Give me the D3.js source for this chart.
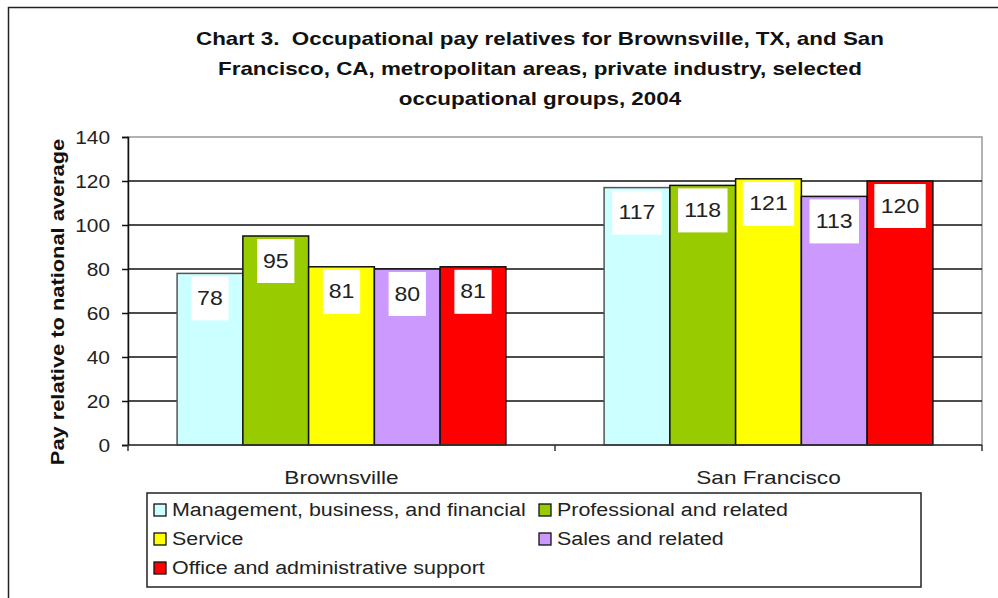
<!DOCTYPE html>
<html>
  <head>
    <title>Occupational pay relatives</title>
    <script src="https://d3js.org/d3.v7.min.js"></script>
    <style>
      body { margin: 0; background: #fff; }
      text { font-family: Arial, "Liberation Sans", sans-serif; }
    </style>
  </head>
  <body>
    <script>
      // values
      let areas = ['Brownsville', 'San Francisco']
      let groups = ['Management, business, and financial', 'Professional and related',
                    'Service', 'Sales and related', 'Office and administrative support']
      let brownsville = [78, 95, 81, 80, 81]
      let sanFrancisco = [117, 118, 121, 113, 120]
      let yTicks = [0, 20, 40, 60, 80, 100, 120, 140]
      let colors = ['#CCFFFF', '#99CC00', '#FFFF00', '#CC99FF', '#FF0000']

      let values = [brownsville, sanFrancisco]
      let width = 998, height = 598
      let plotLeft = 128, plotRight = 982, plotTop = 137, plotBottom = 445

      // the original text is drawn a bit wider than Arial, so widen it
      function stretch(sel, k) {
        sel.each(function () {
          let w = this.getComputedTextLength()
          d3.select(this).attr('textLength', w * k).attr('lengthAdjust', 'spacingAndGlyphs')
        })
      }

      let svg = d3.select('body').append('svg')
                  .attr('width', width)
                  .attr('height', height)

      // outer chart frame (cropped on the right and bottom)
      svg.append('rect')
         .attr('x', 8.5).attr('y', 7.5)
         .attr('width', 1100).attr('height', 700)
         .attr('fill', 'none').attr('stroke', '#222').attr('stroke-width', 1.5)

      let title = ['Chart 3.  Occupational pay relatives for Brownsville, TX, and San',
                   'Francisco, CA, metropolitan areas, private industry, selected',
                   'occupational groups, 2004']
      svg.append('g').selectAll('text').data(title)
         .enter().append('text')
         .attr('x', 540)
         .attr('y', (d, i) => 45 + i * 30)
         .attr('text-anchor', 'middle')
         .style('white-space', 'pre')
         .style('font-size', '18.5px')
         .style('font-weight', 'bold')
         .attr('fill', '#111')
         .text(d => d)
         .call(stretch, 1.21)

      let x0 = d3.scaleBand().domain(areas).range([plotLeft, plotRight])
      let x1 = d3.scaleBand().domain(groups)
                 .range([x0.bandwidth() * 0.115, x0.bandwidth() * 0.885])
      let y = d3.scaleLinear().domain([0, 140]).range([plotBottom, plotTop])

      // plot frame
      svg.append('rect')
         .attr('x', plotLeft).attr('y', plotTop)
         .attr('width', plotRight - plotLeft).attr('height', plotBottom - plotTop)
         .attr('fill', 'none').attr('stroke', '#999').attr('stroke-width', 1.5)

      // grid lines
      svg.append('g').selectAll('line').data(yTicks.filter(t => t > 0 && t < 140))
         .enter().append('line')
         .attr('x1', plotLeft).attr('x2', plotRight)
         .attr('y1', d => y(d)).attr('y2', d => y(d))
         .attr('stroke', '#111').attr('stroke-width', 1.5)

      // y axis
      let yAxis = d3.axisLeft(y).tickValues(yTicks).tickSize(6).tickPadding(12)
      let yg = svg.append('g').attr('transform', `translate(${plotLeft}, 0)`).call(yAxis)
      yg.select('.domain').attr('stroke', '#111').attr('stroke-width', 1.5)
      yg.selectAll('.tick line').attr('stroke', '#111').attr('stroke-width', 1.5)
      yg.selectAll('.tick text').style('font-size', '19px').attr('fill', '#222')
        .call(stretch, 1.1)

      // bars
      let series = svg.selectAll('g.area').data(areas)
                      .enter().append('g')
                      .attr('class', 'area')
                      .attr('transform', d => `translate(${x0(d)}, 0)`)

      series.selectAll('rect').data((d, i) => values[i].map((v, j) => ({v: v, g: groups[j], c: colors[j]})))
            .enter().append('rect')
            .attr('x', d => x1(d.g))
            .attr('y', d => y(d.v))
            .attr('width', x1.bandwidth())
            .attr('height', d => plotBottom - y(d.v))
            .attr('fill', d => d.c)
            .attr('stroke', (d, i) => i === 0 ? '#555' : '#111')
            .attr('stroke-width', 1.5)

      // data labels in white boxes
      let labels = series.selectAll('g.label')
            .data((d, i) => values[i].map((v, j) => ({v: v, g: groups[j]})))
            .enter().append('g').attr('class', 'label')
      let boxes = labels.append('rect')
            .attr('y', d => y(d.v) + 3)
            .attr('height', 44)
            .attr('fill', '#fff')
      let labelText = labels.append('text')
            .attr('x', d => x1(d.g) + x1.bandwidth() / 2)
            .attr('y', d => y(d.v) + 24)
            .attr('text-anchor', 'middle')
            .attr('dominant-baseline', 'central')
            .style('font-size', '21px')
            .attr('fill', '#222')
            .text(d => d.v)
            .call(stretch, 1.1)
      labelText.each(function (d) {
        let w = this.getComputedTextLength() * 1.1 + 9
        d.box = w
      })
      boxes.attr('x', d => x1(d.g) + x1.bandwidth() / 2 - d.box / 2)
           .attr('width', d => d.box)

      // x axis
      svg.append('line')
         .attr('x1', plotLeft).attr('x2', plotRight)
         .attr('y1', plotBottom).attr('y2', plotBottom)
         .attr('stroke', '#333').attr('stroke-width', 1.5)
      let xTicks = [plotLeft, plotLeft + x0.step(), plotRight]
      svg.append('g').selectAll('line').data(xTicks)
         .enter().append('line')
         .attr('x1', d => d).attr('x2', d => d)
         .attr('y1', plotBottom).attr('y2', plotBottom + 6)
         .attr('stroke', '#333').attr('stroke-width', 1.5)
      svg.append('g').selectAll('text').data(areas)
         .enter().append('text')
         .attr('x', d => x0(d) + x0.bandwidth() / 2)
         .attr('y', 484)
         .attr('text-anchor', 'middle')
         .style('font-size', '19px')
         .attr('fill', '#222')
         .text(d => d)
         .call(stretch, 1.19)

      // y axis title
      svg.append('text')
         .attr('transform', `translate(64, 302) rotate(-90)`)
         .attr('text-anchor', 'middle')
         .style('font-size', '18.5px')
         .style('font-weight', 'bold')
         .attr('fill', '#111')
         .text('Pay relative to national average')
         .call(stretch, 1.18)

      // legend
      svg.append('rect')
         .attr('x', 147).attr('y', 493)
         .attr('width', 774).attr('height', 94)
         .attr('fill', '#fff').attr('stroke', '#222').attr('stroke-width', 1.5)
      let legendPos = [[154, 510], [539, 510], [154, 539], [539, 539], [154, 568]]
      let items = svg.append('g').selectAll('g').data(groups)
                     .enter().append('g')
                     .attr('transform', (d, i) => `translate(${legendPos[i][0]}, ${legendPos[i][1]})`)
      items.append('rect')
           .attr('x', 0).attr('y', -6)
           .attr('width', 12).attr('height', 12)
           .attr('fill', (d, i) => colors[i])
           .attr('stroke', '#111').attr('stroke-width', 1.3)
      items.append('text')
           .attr('x', 18).attr('y', 0)
           .attr('dominant-baseline', 'central')
           .style('font-size', '18px')
           .attr('fill', '#222')
           .text(d => d)
           .call(stretch, 1.19)
    </script>
  </body>
</html>
